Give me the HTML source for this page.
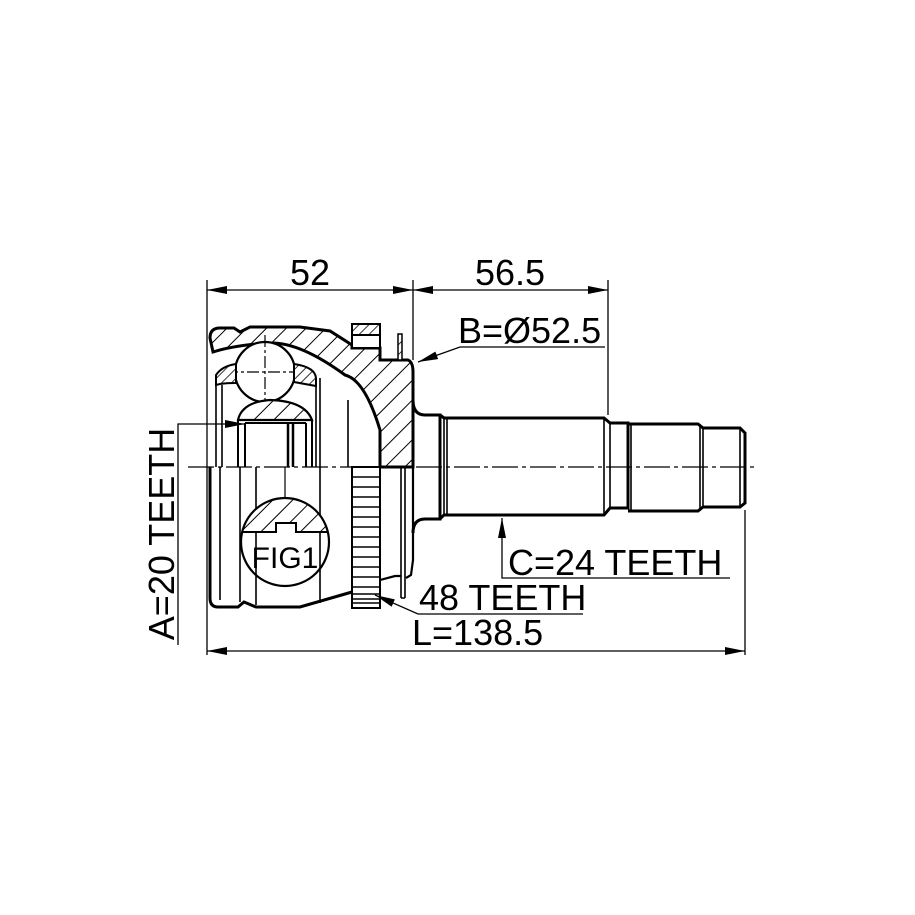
<!DOCTYPE html>
<html><head><meta charset="utf-8"><style>
html,body{margin:0;padding:0;background:#fff;}
svg{display:block;}
text{font-family:"Liberation Sans",Arial,sans-serif;fill:#000;}
</style></head><body>
<svg width="915" height="915" viewBox="0 0 915 915" xmlns="http://www.w3.org/2000/svg">
<defs>
<pattern id="h" patternUnits="userSpaceOnUse" width="14" height="14" patternTransform="rotate(45)">
<rect width="14" height="14" fill="#fff"/><line x1="0" y1="0" x2="0" y2="14" stroke="#000" stroke-width="2"/>
</pattern>
<pattern id="h2" patternUnits="userSpaceOnUse" width="7" height="7" patternTransform="rotate(45)">
<rect width="7" height="7" fill="#fff"/><line x1="0" y1="0" x2="0" y2="7" stroke="#000" stroke-width="1.6"/>
</pattern>
<marker id="a" viewBox="0 0 20 8" refX="20" refY="4" markerWidth="20" markerHeight="8" markerUnits="userSpaceOnUse" orient="auto"><path d="M0,0 L20,4 L0,8 Z" fill="#000"/></marker>
</defs>

<g fill="none" stroke="#000">
<path d="M210,338 Q210,328 220,328 L234,328 L240,332 L250,327 L300,327 L330,331 L352,345 L352,348 L380,348 L380,360 L408,360 Q413,362 413,372 L413,467 L380,467 L380,430 Q365,380 345,375 Q300,342 270,343 Q235,345 213,352 Z" fill="url(#h)" stroke-width="3"/>
<rect x="352" y="324" width="28" height="11" fill="url(#h2)" stroke-width="2"/>
<rect x="352" y="335" width="28" height="13" fill="#fff" stroke-width="2"/>
<rect x="398" y="334" width="4" height="26" fill="url(#h2)" stroke-width="1.5"/>
<circle cx="265" cy="372" r="30" fill="#fff" stroke-width="2.2"/>
<path d="M265,335 V410 M226,372 H305" stroke-width="1.2" stroke-dasharray="12,3,3,3"/>
<path d="M216,375 Q222,366 236,364 L236,383 Q222,383 216,385 Z" fill="url(#h2)" stroke-width="2"/>
<path d="M294,364 Q315,367 316,378 L316,386 Q305,384 294,382 Z" fill="url(#h2)" stroke-width="2"/>
<path d="M238,420 Q242,402 270,400 Q305,401 312,420 Z" fill="url(#h)" stroke-width="2.2"/>
<path d="M238,420 L238,467 M245,423 L245,467 M312,420 L312,467 M306,423 L306,467 M245,423 H306" stroke-width="2"/>
<path d="M288,423 V467 M293,423 V467" stroke-width="2.5"/>
<path d="M216,385 V467 M222,385 V467 M316,378 V467 M320,378 V467 M348,400 V467" stroke-width="1.6"/>
<path d="M210,467 L210,598 Q210,607 218,607 L238,607 L244,602 L256,607 L300,607 L352,592" stroke-width="3"/>
<path d="M220,467 V600 M240,467 V602 M256,467 V605 M320,467 V603" stroke-width="1.6"/>
<clipPath id="c"><circle cx="285" cy="542" r="44"/></clipPath>
<g clip-path="url(#c)">
<path d="M230,490 L340,490 L340,532 L296,532 L296,523 L276,523 L276,532 L230,532 Z" fill="url(#h)"/>
</g>
<path d="M242,532 L276,532 L276,523 L296,523 L296,532 L328,532" stroke-width="2"/>
<circle cx="285" cy="542" r="44" stroke-width="2.2"/>
<path d="M285,467 V498" stroke-width="1.2"/>
<rect x="352" y="467" width="28" height="141" fill="#fff" stroke-width="2"/>
<path d="M352,477H380M352,487H380M352,497H380M352,507H380M352,517H380M352,527H380M352,537H380M352,547H380M352,557H380M352,567H380M352,577H380M352,587H380M352,594H380M352,599H380M352,603H380" stroke-width="1.6"/>
<path d="M401,467 V598 M405,467 V598 M401,598 H405" stroke-width="1.6"/>
<path d="M413,467 V560 L411,575 L406,578 M380,580 L395,576 L401,576" stroke-width="2.2"/>
<path d="M413,400 Q413,415 425,415 L440,415 L440,519 L425,519 Q413,519 413,533" stroke-width="3"/>
<path d="M440,415 L444,418 L604,418 L610,423 L628,423 L628,508 L610,508 L604,515 L444,515 L440,519" stroke-width="3"/>
<path d="M444,418 V515 M447,418 V515 M604,418 V515 M610,423 V508 M631,424 V510" stroke-width="1.6"/>
<path d="M628,424 L698,424 L703,428 L740,428 L745,433 L745,503 L740,507 L703,507 L698,511 L628,511" stroke-width="3"/>
<path d="M700,424 V511 M703,428 V507 M740,428 V507" stroke-width="1.6"/>
<path d="M188,467 H755" stroke-width="1.3" stroke-dasharray="26,4,4,4"/>

<path d="M207,280 V655 M413,280 V360 M608,280 V415 M745,510 V655" stroke-width="1.3"/>
<path d="M310,290 H207" stroke-width="1.3" marker-end="url(#a)"/>
<path d="M310,290 H413" stroke-width="1.3" marker-end="url(#a)"/>
<path d="M510,290 H413" stroke-width="1.3" marker-end="url(#a)"/>
<path d="M510,290 H608" stroke-width="1.3" marker-end="url(#a)"/>
<path d="M470,651 H207" stroke-width="1.3" marker-end="url(#a)"/>
<path d="M470,651 H745" stroke-width="1.3" marker-end="url(#a)"/>
<path d="M605,347 H460 L418,362" stroke-width="1.3" marker-end="url(#a)"/>
<path d="M178,645 V424 H245" stroke-width="1.3" marker-end="url(#a)"/>
<path d="M730,578 H502 V518" stroke-width="1.3" marker-end="url(#a)"/>
<path d="M583,614 H418 L375,595" stroke-width="1.3" marker-end="url(#a)"/>
</g>

<text x="310" y="285" font-size="36" text-anchor="middle">52</text>
<text x="510" y="285" font-size="36" text-anchor="middle">56.5</text>
<text x="458" y="343" font-size="36">B=Ø52.5</text>
<text x="508" y="575" font-size="36">C=24 TEETH</text>
<text x="419" y="610" font-size="36">48 TEETH</text>
<text x="412" y="645" font-size="36">L=138.5</text>
<text x="285" y="568" font-size="30" text-anchor="middle">FIG1</text>
<text transform="translate(174,534) rotate(-90)" font-size="36" text-anchor="middle">A=20 TEETH</text>
</svg>
</body></html>
